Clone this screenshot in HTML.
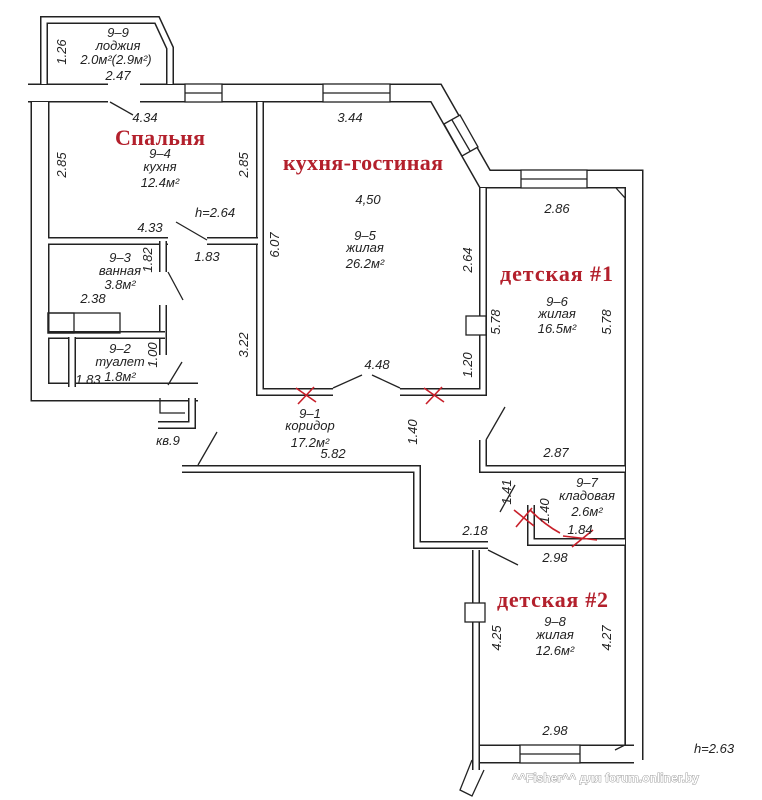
<!DOCTYPE html>
<html><head><meta charset="utf-8"><style>
body{margin:0;background:#fff}
svg{display:block}
.t{font-family:"Liberation Sans",sans-serif;font-style:italic;font-size:13px;fill:#222}
.r{font-family:"Liberation Serif",serif;font-weight:bold;font-size:22px;fill:#b3202c}
.ow{fill:none;stroke:#222;stroke-width:19;stroke-linejoin:miter}
.owi{fill:none;stroke:#fff;stroke-width:16;stroke-linejoin:miter}
.iw{fill:none;stroke:#222;stroke-width:8}
.iwi{fill:none;stroke:#fff;stroke-width:5}
.l{stroke:#222;stroke-width:1.3;fill:none}
.x{stroke:#c8202a;stroke-width:1.6;fill:none}
</style></head><body>
<svg width="762" height="800" viewBox="0 0 762 800">
<rect width="762" height="800" fill="#fff"/>
<g>
<path class="ow" d="M140,93 L436,93 L485,179 L634,179 L634,760"/>
<path class="owi" d="M140,93 L436,93 L485,179 L634,179 L634,760"/>
<path class="ow" d="M28,93 L108,93"/>
<path class="owi" d="M28,93 L108,93"/>
<path class="ow" d="M40,102 L40,392 L198,392"/>
<path class="owi" d="M40,102 L40,392 L198,392"/>
<path class="ow" d="M480,754 L634,754"/>
<path class="owi" d="M480,754 L634,754"/>
</g>
<path d="M616,188 L625,198 L625,745 L615,750" class="l"/>
<path d="M44,84 L44,20 L157,20 L170,48 L170,84" class="iw"/>
<path d="M44,84 L44,20 L157,20 L170,48 L170,84" class="iwi"/>
<g>
<path class="iw" d="M260,102 L260,392 L333,392"/>
<path class="iwi" d="M260,102 L260,392 L333,392"/>
<path class="iw" d="M400,392 L483,392 L483,188"/>
<path class="iwi" d="M400,392 L483,392 L483,188"/>
<path class="iw" d="M483,440 L483,469 L625,469"/>
<path class="iwi" d="M483,440 L483,469 L625,469"/>
<path class="iw" d="M531,505 L531,542 L625,542"/>
<path class="iwi" d="M531,505 L531,542 L625,542"/>
<path class="iw" d="M48,241 L168,241"/><path class="iwi" d="M48,241 L168,241"/>
<path class="iw" d="M207,241 L258,241"/><path class="iwi" d="M207,241 L258,241"/>
<path class="iw" d="M163,241 L163,272"/><path class="iwi" d="M163,241 L163,272"/>
<path class="iw" d="M163,305 L163,355"/><path class="iwi" d="M163,305 L163,355"/>
<path class="iw" d="M48,335 L165,335"/><path class="iwi" d="M48,335 L165,335"/>
<path class="iw" d="M72,337 L72,387"/><path class="iwi" d="M72,337 L72,387"/>
<path class="iw" d="M182,469 L417,469 L417,545 L488,545"/>
<path class="iwi" d="M182,469 L417,469 L417,545 L488,545"/>
<path class="iw" d="M476,550 L476,770"/><path class="iwi" d="M476,550 L476,770"/>
<path class="iw" d="M192,398 L192,425 L158,425"/><path class="iwi" d="M192,398 L192,425 L158,425"/>
</g>
<rect x="48" y="313" width="72" height="20" class="l" fill="#fff"/>
<rect x="48" y="313" width="26" height="20" class="l"/>
<path d="M160,398 L160,413 L185,413" class="l"/>
<path d="M472,760 L460,790 L472,796 L484,770" class="l" fill="#fff"/>
<g class="l">
<rect x="185" y="84" width="37" height="18" fill="#fff"/><line x1="185" y1="93" x2="222" y2="93"/>
<rect x="323" y="84" width="67" height="18" fill="#fff"/><line x1="323" y1="93" x2="390" y2="93"/>
<rect x="521" y="170" width="66" height="18" fill="#fff"/><line x1="521" y1="179" x2="587" y2="179"/>
<rect x="520" y="745" width="60" height="18" fill="#fff"/><line x1="520" y1="754" x2="580" y2="754"/>
<path d="M444,124 L460,115 L478,147 L462,156 Z" fill="#fff"/><line x1="452" y1="120" x2="470" y2="151"/>
<rect x="466" y="316" width="20" height="19" fill="#fff"/>
<rect x="465" y="603" width="20" height="19" fill="#fff"/>
</g>
<g class="l">
<line x1="110" y1="102" x2="133" y2="115"/>
<line x1="176" y1="222" x2="207" y2="240"/>
<line x1="168" y1="272" x2="183" y2="300"/>
<line x1="168" y1="385" x2="182" y2="362"/>
<line x1="333" y1="388" x2="362" y2="375"/>
<line x1="400" y1="388" x2="372" y2="375"/>
<line x1="198" y1="465" x2="217" y2="432"/>
<line x1="486" y1="440" x2="505" y2="407"/>
<line x1="515" y1="485" x2="500" y2="512"/>
<line x1="488" y1="550" x2="518" y2="565"/>
</g>
<g class="x">
<path d="M296,388 L316,402 M314,387 L298,404"/>
<path d="M424,388 L444,402 M442,387 L426,404"/>
<path d="M514,510 L534,526 M532,508 L516,527"/>
<path d="M563,536 L597,540 M572,547 L593,530"/>
<path d="M530,510 Q545,525 560,533"/>
</g>
<text class="r" x="115" y="145" textLength="90">Спальня</text>
<text class="r" x="283" y="170" textLength="160">кухня-гостиная</text>
<text class="r" x="500" y="281" textLength="113">детская #1</text>
<text class="r" x="497" y="607" textLength="111">детская #2</text>
<g class="t" text-anchor="middle">
<text x="118" y="37">9–9</text>
<text x="118" y="50">лоджия</text>
<text x="116" y="64">2.0м²(2.9м²)</text>
<text x="118" y="80">2.47</text>
<text x="145" y="122">4.34</text>
<text x="160" y="158">9–4</text>
<text x="160" y="171">кухня</text>
<text x="160" y="187">12.4м²</text>
<text x="215" y="217">h=2.64</text>
<text x="150" y="232">4.33</text>
<text x="207" y="261">1.83</text>
<text x="120" y="262">9–3</text>
<text x="120" y="275">ванная</text>
<text x="120" y="289">3.8м²</text>
<text x="93" y="303">2.38</text>
<text x="120" y="353">9–2</text>
<text x="120" y="366">туалет</text>
<text x="120" y="381">1.8м²</text>
<text x="88" y="384">1.83</text>
<text x="168" y="445">кв.9</text>
<text x="350" y="122">3.44</text>
<text x="368" y="204">4,50</text>
<text x="365" y="240">9–5</text>
<text x="365" y="252">жилая</text>
<text x="365" y="268">26.2м²</text>
<text x="377" y="369">4.48</text>
<text x="310" y="418">9–1</text>
<text x="310" y="430">коридор</text>
<text x="310" y="447">17.2м²</text>
<text x="333" y="458">5.82</text>
<text x="557" y="213">2.86</text>
<text x="557" y="306">9–6</text>
<text x="557" y="318">жилая</text>
<text x="557" y="333">16.5м²</text>
<text x="556" y="457">2.87</text>
<text x="587" y="487">9–7</text>
<text x="587" y="500">кладовая</text>
<text x="587" y="516">2.6м²</text>
<text x="580" y="534">1.84</text>
<text x="475" y="535">2.18</text>
<text x="555" y="562">2.98</text>
<text x="555" y="626">9–8</text>
<text x="555" y="639">жилая</text>
<text x="555" y="655">12.6м²</text>
<text x="555" y="735">2.98</text>
<text x="714" y="753">h=2.63</text>
</g>
<g class="t" text-anchor="middle">
<text transform="translate(66,52) rotate(-90)">1.26</text>
<text transform="translate(66,165) rotate(-90)">2.85</text>
<text transform="translate(248,165) rotate(-90)">2.85</text>
<text transform="translate(152,260) rotate(-90)">1.82</text>
<text transform="translate(157,355) rotate(-90)">1.00</text>
<text transform="translate(248,345) rotate(-90)">3.22</text>
<text transform="translate(279,245) rotate(-90)">6.07</text>
<text transform="translate(472,260) rotate(-90)">2.64</text>
<text transform="translate(472,365) rotate(-90)">1.20</text>
<text transform="translate(500,322) rotate(-90)">5.78</text>
<text transform="translate(611,322) rotate(-90)">5.78</text>
<text transform="translate(417,432) rotate(-90)">1.40</text>
<text transform="translate(511,492) rotate(-90)">1.41</text>
<text transform="translate(549,511) rotate(-90)">1.40</text>
<text transform="translate(501,638) rotate(-90)">4.25</text>
<text transform="translate(611,638) rotate(-90)">4.27</text>
</g>
<text x="512" y="782" style="font-family:'Liberation Sans',sans-serif;font-weight:bold;font-size:12px;fill:#fff;stroke:#888;stroke-width:0.8;paint-order:stroke">^^Fisher^^ для forum.onliner.by</text>
</svg>
</body></html>
